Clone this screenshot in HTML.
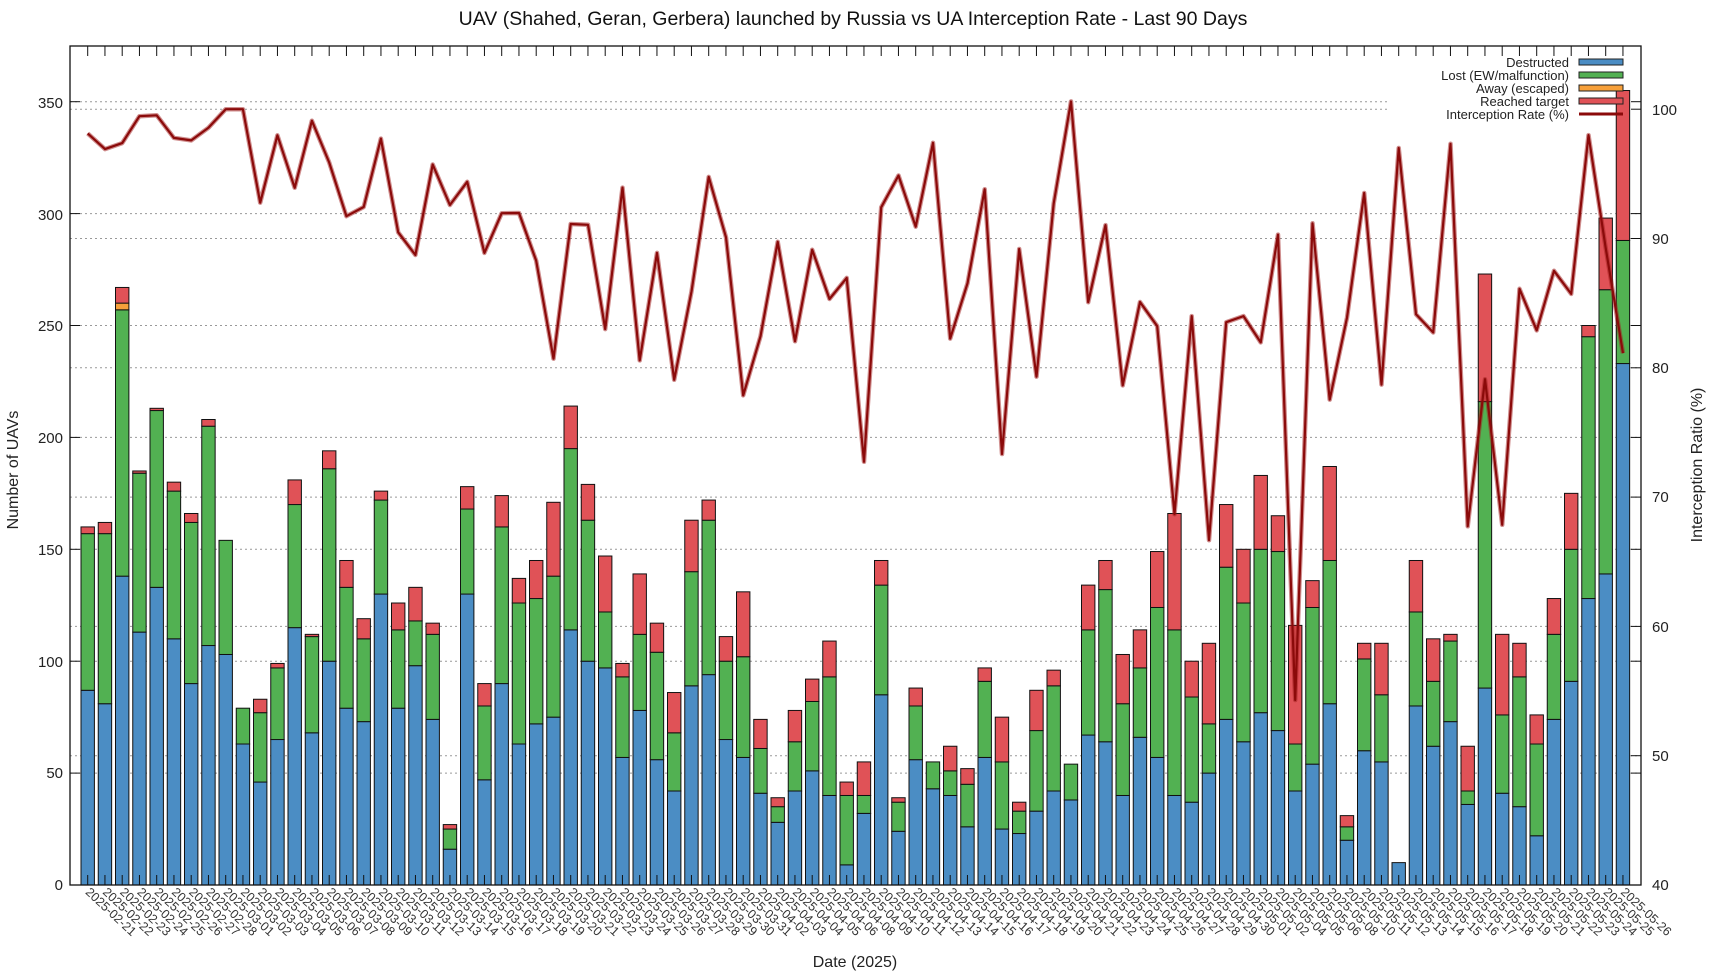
<!DOCTYPE html>
<html><head><meta charset="utf-8">
<style>
html,body{margin:0;padding:0;background:#fff;}
svg{display:block;font-family:"Liberation Sans",Arial,sans-serif;}
</style></head>
<body>
<svg id="c" width="1732" height="974" viewBox="0 0 1732 974" xmlns="http://www.w3.org/2000/svg">
<rect width="1732" height="974" fill="#fff"/>
<text x="853" y="25" font-size="19.5" text-anchor="middle" fill="#111">UAV (Shahed, Geran, Gerbera) launched by Russia vs UA Interception Rate - Last 90 Days</text>
<g id="grid"></g>
<g id="bars"></g>
<g id="line"></g>
<g id="axes"></g>
<g font-size="15" fill="#222" text-anchor="end">
<text x="63" y="890">0</text><text x="63" y="778">50</text><text x="63" y="667">100</text><text x="63" y="555">150</text><text x="63" y="443">200</text><text x="63" y="331">250</text><text x="63" y="220">300</text><text x="63" y="108">350</text>
</g>
<g font-size="15" fill="#222">
<text x="1652" y="890">40</text><text x="1652" y="761">50</text><text x="1652" y="632">60</text><text x="1652" y="502">70</text><text x="1652" y="373">80</text><text x="1652" y="244">90</text><text x="1652" y="115">100</text>
</g>
<text transform="translate(18,470) rotate(-90)" font-size="16" text-anchor="middle" fill="#222">Number of UAVs</text>
<text transform="translate(1702,465) rotate(-90)" font-size="16" text-anchor="middle" fill="#222">Interception Ratio (%)</text>
<text x="855" y="967" font-size="16" text-anchor="middle" fill="#222">Date (2025)</text>
<g font-size="13" fill="#222" text-anchor="end">
<text x="1569" y="67">Destructed</text>
<text x="1569" y="80">Lost (EW/malfunction)</text>
<text x="1569" y="93">Away (escaped)</text>
<text x="1569" y="106">Reached target</text>
<text x="1569" y="119">Interception Rate (%)</text>
</g>
<g stroke="#222" stroke-width="1">
<rect x="1579" y="59" width="44" height="6" fill="#4b8dc4"/>
<rect x="1579" y="72" width="44" height="6" fill="#52b152"/>
<rect x="1579" y="85" width="44" height="6" fill="#f7a03a"/>
<rect x="1579" y="98" width="44" height="6" fill="#e05257"/>
</g>
<line x1="1579" y1="114" x2="1623" y2="114" stroke="#8b0a0a" stroke-width="3"/>
<g id="dl" font-size="12.5" fill="#333">
<text>2025-02-21</text><text>2025-02-22</text><text>2025-02-23</text><text>2025-02-24</text><text>2025-02-25</text><text>2025-02-26</text><text>2025-02-27</text><text>2025-02-28</text>
<text>2025-03-01</text><text>2025-03-02</text><text>2025-03-03</text><text>2025-03-04</text><text>2025-03-05</text><text>2025-03-06</text><text>2025-03-07</text><text>2025-03-08</text><text>2025-03-09</text><text>2025-03-10</text><text>2025-03-11</text><text>2025-03-12</text><text>2025-03-13</text><text>2025-03-14</text><text>2025-03-15</text><text>2025-03-16</text><text>2025-03-17</text><text>2025-03-18</text><text>2025-03-19</text><text>2025-03-20</text><text>2025-03-21</text><text>2025-03-22</text><text>2025-03-23</text><text>2025-03-24</text><text>2025-03-25</text><text>2025-03-26</text><text>2025-03-27</text><text>2025-03-28</text><text>2025-03-29</text><text>2025-03-30</text><text>2025-03-31</text>
<text>2025-04-02</text><text>2025-04-03</text><text>2025-04-04</text><text>2025-04-05</text><text>2025-04-06</text><text>2025-04-08</text><text>2025-04-09</text><text>2025-04-10</text><text>2025-04-11</text><text>2025-04-12</text><text>2025-04-13</text><text>2025-04-14</text><text>2025-04-15</text><text>2025-04-16</text><text>2025-04-17</text><text>2025-04-18</text><text>2025-04-19</text><text>2025-04-20</text><text>2025-04-21</text><text>2025-04-22</text><text>2025-04-23</text><text>2025-04-24</text><text>2025-04-25</text><text>2025-04-26</text><text>2025-04-27</text><text>2025-04-28</text><text>2025-04-29</text><text>2025-04-30</text>
<text>2025-05-01</text><text>2025-05-02</text><text>2025-05-04</text><text>2025-05-05</text><text>2025-05-06</text><text>2025-05-08</text><text>2025-05-10</text><text>2025-05-11</text><text>2025-05-12</text><text>2025-05-13</text><text>2025-05-14</text><text>2025-05-15</text><text>2025-05-16</text><text>2025-05-17</text><text>2025-05-18</text><text>2025-05-19</text><text>2025-05-20</text><text>2025-05-21</text><text>2025-05-22</text><text>2025-05-23</text><text>2025-05-24</text><text>2025-05-25</text><text>2025-05-26</text>
</g>
</svg>
<script>
(function(){
var NS="http://www.w3.org/2000/svg";
function el(p,t,a){var e=document.createElementNS(NS,t);for(var k in a)e.setAttribute(k,a[k]);p.appendChild(e);return e;}
var L=70,R=1641,T=46,B=885,K=2.238,X0=87.7,DX=17.25,BW=13.4;
function Y(v){return B-v*K;}
function YP(p){return B-(p-40)*12.93;}
var d=[[87,157,160],[81,157,162],[138,257,267],[113,184,185],[133,212,213],[110,176,180],[90,162,166],[107,205,208],[103,154,154],[63,79,79],
[46,77,83],[65,97,99],[115,170,181],[68,111,112],[100,186,194],[79,133,145],[73,110,119],[130,172,176],[79,114,126],[98,118,133],
[74,112,117],[16,25,27],[130,168,178],[47,80,90],[90,160,174],[63,126,137],[72,128,145],[75,138,171],[114,195,214],[100,163,179],
[97,122,147],[57,93,99],[78,112,139],[56,104,117],[42,68,86],[89,140,163],[94,163,172],[65,100,111],[57,102,131],[41,61,74],
[28,35,39],[42,64,78],[51,82,92],[40,93,109],[9,40,46],[32,40,55],[85,134,145],[24,37,39],[56,80,88],[43,55,55],
[40,51,62],[26,45,52],[57,91,97],[25,55,75],[23,33,37],[33,69,87],[42,89,96],[38,54,54],[67,114,134],[64,132,145],
[40,81,103],[66,97,114],[57,124,149],[40,114,166],[37,84,100],[50,72,108],[74,142,170],[64,126,150],[77,150,183],[69,149,165],
[42,63,116],[54,124,136],[81,145,187],[20,26,31],[60,101,108],[55,85,108],[10,10,10],[80,122,145],[62,91,110],[73,109,112],
[36,42,62],[88,216,273],[41,76,112],[35,93,108],[22,63,76],[74,112,128],[91,150,175],[128,245,250],[139,266,298],[233,288,355]];
var ov={49:97.4,57:100.6,76:97.0};
var g=document.getElementById('grid');
for(var v=50;v<=350;v+=50){var xe=(v==350)?1388:R;el(g,'line',{x1:L,x2:xe,y1:Y(v),y2:Y(v),stroke:'#999','stroke-width':1,'stroke-dasharray':'2,3'});}
for(var p=50;p<=100;p+=10){var xe=(p==100)?1388:R;el(g,'line',{x1:L,x2:xe,y1:YP(p),y2:YP(p),stroke:'#999','stroke-width':1,'stroke-dasharray':'2,3'});}
var bg=document.getElementById('bars');var pts=[];
d.forEach(function(r,i){var cx=X0+i*DX,x=cx-BW/2;
 function seg(a,b,c){if(b-a<=0)return;el(bg,'rect',{x:x,y:Y(b),width:BW,height:(b-a)*K,fill:c,stroke:'#111','stroke-width':1});}
 seg(0,r[0],'#4b8dc4');seg(r[0],r[1],'#52b152');
 if(i==2){seg(257,260,'#f7a03a');seg(260,267,'#e05257');}else seg(r[1],r[2],'#e05257');
 var rate=(i==2?260:r[1])/r[2]*100;if(ov[i]!==undefined)rate=ov[i];pts.push(cx.toFixed(1)+','+YP(rate).toFixed(1));
});
var lg=document.getElementById('line');
el(lg,'polyline',{points:pts.join(' '),fill:'none',stroke:'rgba(160,30,30,0.5)','stroke-width':4.5,'stroke-linejoin':'round'});
el(lg,'polyline',{points:pts.join(' '),fill:'none',stroke:'#8b0a0a','stroke-width':2.2,'stroke-linejoin':'round'});
var ax=document.getElementById('axes');
el(ax,'rect',{x:L,y:T,width:R-L,height:B-T,fill:'none',stroke:'#111','stroke-width':1.3});
for(var i=0;i<90;i++){var cx=X0+i*DX;el(ax,'line',{x1:cx,x2:cx,y1:T,y2:T+10,stroke:'#111','stroke-width':1});el(ax,'line',{x1:cx,x2:cx,y1:B,y2:B-10,stroke:'#111','stroke-width':1});}
for(var v=0;v<=350;v+=50){el(ax,'line',{x1:L,x2:L+10,y1:Y(v),y2:Y(v),stroke:'#111'});el(ax,'line',{x1:R,x2:R-10,y1:Y(v),y2:Y(v),stroke:'#111'});}
for(var p=40;p<=100;p+=10){el(ax,'line',{x1:R,x2:R-10,y1:YP(p),y2:YP(p),stroke:'#111'});}
var ts=document.getElementById('dl').getElementsByTagName('text');
for(var i=0;i<ts.length;i++){var cx=X0+i*DX-3;ts[i].setAttribute('transform','translate('+cx+',893) rotate(43)');}
})();
</script>
</body></html>
